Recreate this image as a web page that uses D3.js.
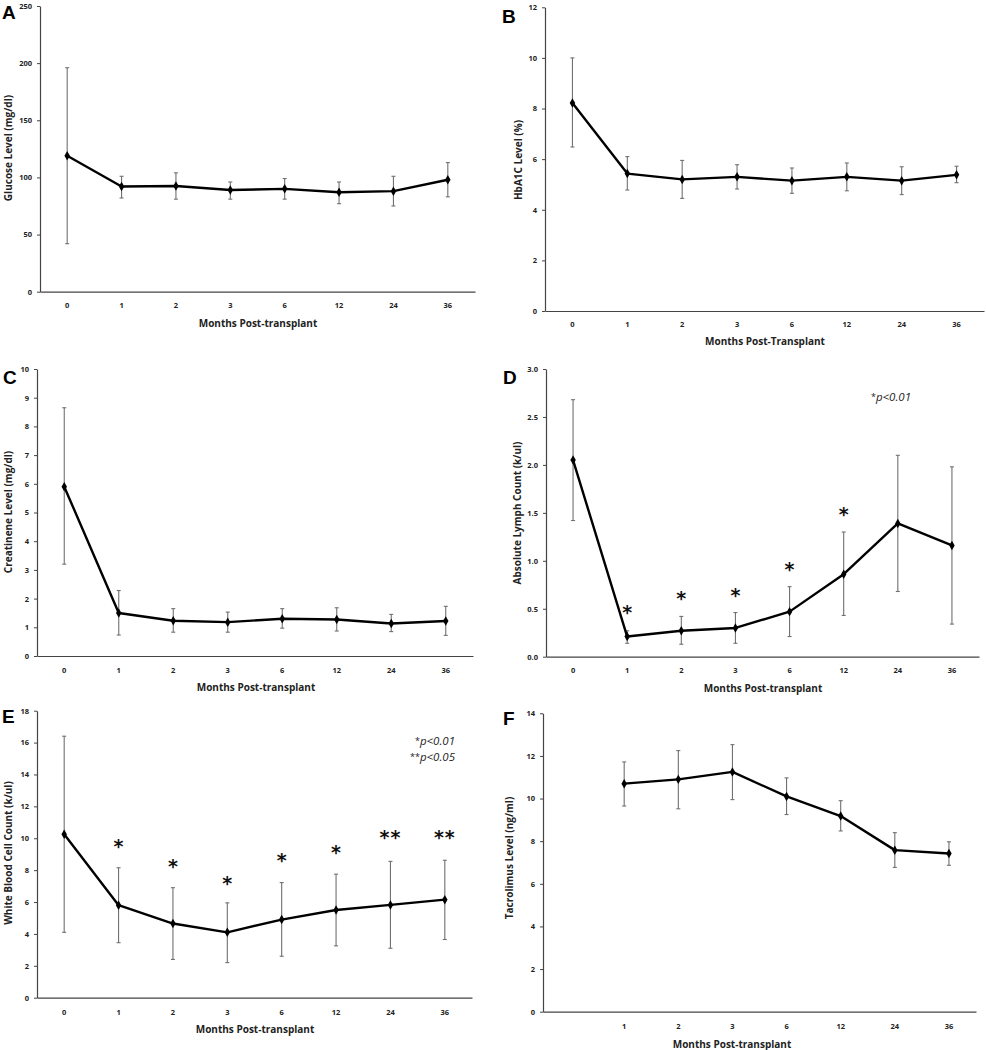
<!DOCTYPE html>
<html><head><meta charset="utf-8">
<script src="https://cdn.jsdelivr.net/npm/d3@7"></script>
<style>body{margin:0;background:#fff}svg{display:block}</style>
</head><body>
<svg id="c" width="986" height="1050"></svg>
<script>
const months = ["0","1","2","3","6","12","24","36"];
const monthsF = ["","1","2","3","6","12","24","36"];

const glucoseMean = [119, 92, 92.5, 89, 90, 87, 88, 98];
const glucoseHi   = [196, 101, 104, 96, 99, 96, 101, 113];
const glucoseLo   = [42, 82, 81, 81, 81, 77, 75, 83];

const hba1cMean = [8.22, 5.43, 5.2, 5.3, 5.15, 5.3, 5.15, 5.38];
const hba1cHi   = [10.0, 6.1, 5.95, 5.78, 5.65, 5.85, 5.7, 5.72];
const hba1cLo   = [6.48, 4.78, 4.45, 4.82, 4.65, 4.75, 4.6, 5.07];

const creatMean = [5.9, 1.5, 1.23, 1.18, 1.3, 1.27, 1.13, 1.22];
const creatHi   = [8.65, 2.28, 1.65, 1.53, 1.65, 1.68, 1.45, 1.73];
const creatLo   = [3.2, 0.73, 0.83, 0.83, 0.97, 0.87, 0.85, 0.72];

const lymphMean = [2.05, 0.21, 0.27, 0.30, 0.47, 0.86, 1.39, 1.16];
const lymphHi   = [2.68, 0.27, 0.42, 0.46, 0.73, 1.30, 2.10, 1.98];
const lymphLo   = [1.42, 0.14, 0.13, 0.14, 0.21, 0.43, 0.68, 0.34];
const lymphStars = ["", "*", "*", "*", "*", "*", "", ""];
const lymphStarY = [null, 0.50, 0.64, 0.67, 0.95, 1.52, null, null];

const wbcMean = [10.25, 5.8, 4.65, 4.1, 4.9, 5.5, 5.82, 6.15];
const wbcHi   = [16.4, 8.15, 6.9, 5.95, 7.22, 7.75, 8.55, 8.62];
const wbcLo   = [4.1, 3.45, 2.4, 2.2, 2.6, 3.25, 3.1, 3.65];
const wbcStars = ["", "*", "*", "*", "*", "*", "**", "**"];
const wbcStarY = [null, 9.7, 8.45, 7.4, 8.8, 9.3, 10.25, 10.25];

const tacroMean = [null, 10.7, 10.9, 11.25, 10.1, 9.18, 7.58, 7.42];
const tacroHi   = [null, 11.72, 12.25, 12.53, 10.97, 9.9, 8.4, 7.97];
const tacroLo   = [null, 9.65, 9.52, 9.95, 9.25, 8.48, 6.77, 6.87];

const panels = [
  {letter:"A", lx:2, ly:19, cats:months, mean:glucoseMean, hi:glucoseHi, lo:glucoseLo,
   x0:40, x1:475, yTop:6, yZero:291.7, max:250, step:50, fmt:d3.format("d"),
   ylab:"Glucose Level (mg/dl)", ylx:8, yly:148, xlab:"Months Post-transplant", xlx:258, xly:327, tly:308},
  {letter:"B", lx:502, ly:23, cats:months, mean:hba1cMean, hi:hba1cHi, lo:hba1cLo,
   x0:545, x1:984, yTop:7.3, yZero:311, max:12, step:2, fmt:d3.format("d"),
   ylab:"HbA1C  Level (%)", ylx:518, yly:160, xlab:"Months Post-Transplant", xlx:765, xly:345, tly:327},
  {letter:"C", lx:3, ly:384, cats:months, mean:creatMean, hi:creatHi, lo:creatLo,
   x0:37, x1:473, yTop:369, yZero:656, max:10, step:1, fmt:d3.format("d"),
   ylab:"Creatinene Level (mg/dl)", ylx:8, yly:512, xlab:"Months Post-transplant", xlx:256, xly:691, tly:673},
  {letter:"D", lx:503, ly:384, cats:months, mean:lymphMean, hi:lymphHi, lo:lymphLo,
   x0:546, x1:979, yTop:369, yZero:656.7, max:3, step:0.5, fmt:d3.format(".1f"),
   ylab:"Absolute Lymph Count (k/ul)", ylx:517, yly:513, xlab:"Months Post-transplant", xlx:763, xly:692, tly:673,
   stars:lymphStars, starY:lymphStarY, notes:[{t:"p<0.01", pre:"*", x:911, y:401}]},
  {letter:"E", lx:2, ly:723, cats:months, mean:wbcMean, hi:wbcHi, lo:wbcLo,
   x0:37, x1:472, yTop:710.7, yZero:997.7, max:18, step:2, fmt:d3.format("d"),
   ylab:"White Blood Cell Count (k/ul)", ylx:8, yly:853, xlab:"Months Post-transplant", xlx:255, xly:1033, tly:1015,
   stars:wbcStars, starY:wbcStarY, notes:[{t:"p<0.01", pre:"*", x:455, y:745},{t:"p<0.05", pre:"**", x:455, y:761}]},
  {letter:"F", lx:503, ly:725, cats:monthsF, mean:tacroMean, hi:tacroHi, lo:tacroLo,
   x0:543, x1:976, yTop:713.3, yZero:1011.7, max:14, step:2, fmt:d3.format("d"),
   ylab:"Tacrolimus Level (ng/ml)", ylx:509, yly:858, xlab:"Months Post-transplant", xlx:732, xly:1048, tly:1029}
];

const svg = d3.select("#c");
const FONT = "'Open Sans', 'DejaVu Sans', sans-serif";

panels.forEach(p => {
  const g = svg.append("g");
  const x = d3.scaleBand().domain(p.cats.map((c,i)=>i)).range([p.x0, p.x1]);
  const y = d3.scaleLinear().domain([0, p.max]).range([p.yZero, p.yTop]);
  const cx = i => x(i) + x.bandwidth()/2;

  const yAxis = d3.axisLeft(y).tickValues(d3.range(0, p.max + p.step/2, p.step)).tickFormat(p.fmt).tickSize(3).tickSizeOuter(0).tickPadding(5);
  const ya = g.append("g").attr("transform", `translate(${p.x0},0)`).call(yAxis);
  ya.select(".domain").attr("stroke", "#444").attr("stroke-width", 1.2);
  ya.selectAll(".tick line").attr("stroke", "#444");
  ya.selectAll(".tick text").attr("font-family", FONT).attr("font-size", 7.5).attr("font-weight", "bold").attr("fill", "#222");

  const xa = g.append("g").attr("transform", `translate(0,${p.yZero})`).call(d3.axisBottom(x).tickSize(0).tickFormat(""));
  xa.select(".domain").attr("stroke", "#444").attr("stroke-width", 1.2);
  g.selectAll(".xtl").data(p.cats).join("text")
    .attr("x", (d,i)=>cx(i)).attr("y", p.tly).attr("text-anchor","middle")
    .attr("font-family", FONT).attr("font-size", 7.5).attr("font-weight","bold").attr("fill","#222").text(d=>d);

  g.append("text").attr("x", p.xlx).attr("y", p.xly).attr("text-anchor","middle")
    .attr("font-family", FONT).attr("font-size", 10).attr("font-weight","bold").attr("fill","#222").text(p.xlab);
  g.append("text").attr("transform", `translate(${p.ylx+3.5},${p.yly}) rotate(-90)`).attr("text-anchor","middle")
    .attr("font-family", FONT).attr("font-size", 10).attr("font-weight","bold").attr("fill","#222").text(p.ylab);
  g.append("text").attr("x", p.lx).attr("y", p.ly)
    .attr("font-family", "'Liberation Sans', Arial, sans-serif").attr("font-size", 19).attr("font-weight","bold").attr("fill","#000").text(p.letter);

  const idx = d3.range(p.cats.length).filter(i => p.mean[i] != null);

  const eb = g.append("g").attr("stroke", "#707070").attr("stroke-width", 1.1);
  idx.forEach(i => {
    eb.append("line").attr("x1", cx(i)).attr("x2", cx(i)).attr("y1", y(p.hi[i])).attr("y2", y(p.lo[i]));
    eb.append("line").attr("x1", cx(i)-2).attr("x2", cx(i)+2).attr("y1", y(p.hi[i])).attr("y2", y(p.hi[i]));
    eb.append("line").attr("x1", cx(i)-2).attr("x2", cx(i)+2).attr("y1", y(p.lo[i])).attr("y2", y(p.lo[i]));
  });

  const line = d3.line().x(i=>cx(i)).y(i=>y(p.mean[i]));
  g.append("path").datum(idx).attr("d", line).attr("fill","none").attr("stroke","#000").attr("stroke-width",2.4).attr("stroke-linejoin","round");

  const sym = d3.symbol().type(d3.symbolDiamond).size(26);
  g.selectAll(".mk").data(idx).join("path").attr("d", sym)
    .attr("transform", i=>`translate(${cx(i)},${y(p.mean[i])})`).attr("fill","#000");

  if (p.stars) {
    p.stars.forEach((s,i) => {
      if (!s) return;
      g.append("text").attr("x", cx(i)).attr("y", y(p.starY[i]) + 10).attr("text-anchor","middle")
        .attr("font-family", "'DejaVu Sans', sans-serif").attr("font-size", 19).attr("font-weight","bold").attr("fill","#111")
        .attr("letter-spacing", s.length > 1 ? 1 : 0).text(s);
    });
  }
  if (p.notes) {
    p.notes.forEach(n => {
      const t = g.append("text").attr("x", n.x).attr("y", n.y).attr("text-anchor","end")
        .attr("font-family", FONT).attr("font-size", 11.5).attr("fill","#222");
      t.append("tspan").attr("font-size", 9).attr("dy", -1).text(n.pre);
      t.append("tspan").attr("font-style","italic").attr("dy", 1).text(n.t);
    });
  }
});
</script>
</body></html>
